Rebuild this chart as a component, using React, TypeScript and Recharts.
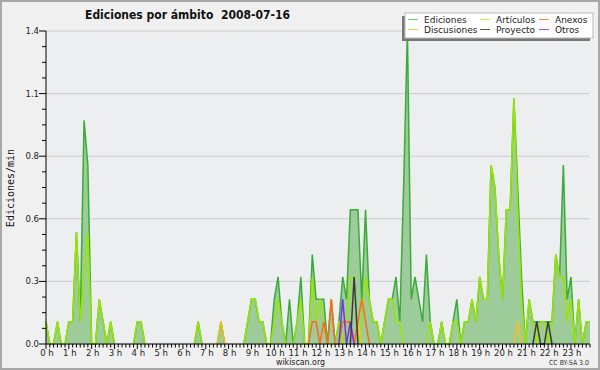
import React from 'react';
import { ComposedChart, Area, Line, XAxis, YAxis, CartesianGrid } from 'recharts';

// edits per minute, one value per 10-minute slot (6 slots per hour)
const ediciones = [
  0.1, 0, 0, 0.1, 0, 0,          // 0 h
  0.1, 0.1, 0.5, 0.1, 1.0, 0.8,  // 1 h
  0, 0, 0.2, 0.1, 0, 0.1,        // 2 h
  0, 0, 0, 0, 0, 0,              // 3 h
  0.1, 0.1, 0, 0, 0, 0,          // 4 h
  0, 0, 0, 0, 0, 0,              // 5 h
  0, 0, 0, 0, 0.1, 0,            // 6 h
  0, 0, 0, 0, 0.1, 0,            // 7 h
  0, 0, 0, 0, 0, 0.1,            // 8 h
  0.2, 0.2, 0.1, 0.1, 0, 0,      // 9 h
  0.2, 0.3, 0.1, 0, 0.2, 0,      // 10 h
  0.1, 0.3, 0, 0, 0.4, 0.2,      // 11 h
  0.2, 0.2, 0, 0.2, 0, 0.1,      // 12 h
  0.3, 0.2, 0.6, 0.6, 0.6, 0.2,  // 13 h
  0.6, 0.2, 0.1, 0.1, 0, 0.1,    // 14 h
  0.2, 0.2, 0.3, 0.1, 0.7, 1.4,  // 15 h
  0.2, 0.3, 0.2, 0.1, 0.4, 0.1,  // 16 h
  0, 0, 0.1, 0, 0, 0.1,          // 17 h
  0.2, 0, 0.1, 0.1, 0.2, 0.1,    // 18 h
  0.3, 0.2, 0.2, 0.8, 0.7, 0.4,  // 19 h
  0.2, 0.6, 0.6, 1.1, 0.7, 0.3,  // 20 h
  0, 0.2, 0.1, 0.1, 0.1, 0.1,    // 21 h
  0.1, 0.1, 0.4, 0.3, 0.8, 0.2,  // 22 h
  0.3, 0, 0.2, 0, 0.1, 0.1,      // 23 h
];

const articulos = [
  0.1, 0, 0, 0.1, 0, 0,
  0.1, 0.1, 0.5, 0.1, 0.3, 0.5,
  0, 0, 0.2, 0.1, 0, 0.1,
  0, 0, 0, 0, 0, 0,
  0.1, 0.1, 0, 0, 0, 0,
  0, 0, 0, 0, 0, 0,
  0, 0, 0, 0, 0.1, 0,
  0, 0, 0, 0, 0, 0,
  0, 0, 0, 0, 0, 0.1,
  0.2, 0.2, 0.1, 0.1, 0, 0,
  0.1, 0.2, 0.1, 0, 0, 0,
  0.1, 0.2, 0, 0, 0.3, 0.1,
  0.2, 0.1, 0, 0, 0, 0.1,
  0, 0.1, 0.3, 0.3, 0, 0.1,
  0.3, 0.2, 0.1, 0.1, 0, 0.1,
  0.2, 0.2, 0.1, 0.1, 0, 0,
  0, 0, 0, 0, 0, 0.1,
  0, 0, 0.1, 0, 0, 0.1,
  0.1, 0, 0.1, 0.1, 0.2, 0.1,
  0.3, 0.2, 0.2, 0.8, 0.7, 0.4,
  0.2, 0.6, 0.6, 1.1, 0.6, 0.2,
  0, 0.2, 0.1, 0, 0.1, 0.1,
  0, 0.1, 0.4, 0.3, 0.3, 0.1,
  0.2, 0, 0.2, 0, 0.1, 0.1,
];

const anexos = [
  0, 0, 0, 0, 0, 0,  0, 0, 0, 0, 0, 0,  0, 0, 0, 0, 0, 0,  0, 0, 0, 0, 0, 0,
  0, 0, 0, 0, 0, 0,  0, 0, 0, 0, 0, 0,  0, 0, 0, 0, 0, 0,  0, 0, 0, 0, 0, 0,
  0, 0, 0, 0, 0, 0,  0, 0, 0, 0, 0, 0,  0, 0, 0, 0, 0, 0,
  0, 0, 0, 0, 0.1, 0.1,        // 11 h
  0, 0.1, 0, 0.2, 0, 0,        // 12 h
  0.1, 0.1, 0.1, 0, 0.1, 0.2,  // 13 h
  0.1, 0, 0, 0, 0, 0,          // 14 h
  0, 0, 0, 0, 0, 0,  0, 0, 0, 0, 0, 0,  0, 0, 0, 0, 0, 0,  0, 0, 0, 0, 0, 0,
  0, 0, 0, 0, 0, 0,  0, 0, 0, 0, 0, 0,  0, 0, 0, 0, 0, 0,  0, 0, 0, 0, 0, 0,
  0, 0, 0, 0, 0, 0,
];

const discusiones = [
  0, 0, 0, 0, 0, 0,  0, 0, 0, 0, 0, 0,  0, 0, 0, 0, 0, 0,  0, 0, 0, 0, 0, 0,
  0, 0, 0, 0, 0, 0,  0, 0, 0, 0, 0, 0,  0, 0, 0, 0, 0, 0,
  0, 0, 0, 0, 0.1, 0,          // 7 h
  0, 0, 0, 0, 0, 0,  0, 0, 0, 0, 0, 0,  0, 0, 0, 0, 0, 0,  0, 0, 0, 0, 0, 0,
  0, 0, 0, 0, 0, 0,
  0, 0, 0, 0, 0.1, 0,          // 13 h
  0, 0, 0, 0, 0, 0,  0, 0, 0, 0, 0, 0,  0, 0, 0, 0, 0, 0,  0, 0, 0, 0, 0, 0,
  0, 0, 0, 0, 0, 0,  0, 0, 0, 0, 0, 0,
  0, 0, 0, 0, 0.1, 0,          // 20 h
  0, 0, 0, 0, 0, 0,  0, 0, 0, 0, 0, 0,  0, 0, 0, 0, 0, 0,
];

const proyecto = [
  0, 0, 0, 0, 0, 0,  0, 0, 0, 0, 0, 0,  0, 0, 0, 0, 0, 0,  0, 0, 0, 0, 0, 0,
  0, 0, 0, 0, 0, 0,  0, 0, 0, 0, 0, 0,  0, 0, 0, 0, 0, 0,  0, 0, 0, 0, 0, 0,
  0, 0, 0, 0, 0, 0,  0, 0, 0, 0, 0, 0,  0, 0, 0, 0, 0, 0,  0, 0, 0, 0, 0, 0,
  0, 0, 0, 0, 0, 0,
  0, 0, 0, 0.3, 0, 0,          // 13 h
  0, 0, 0, 0, 0, 0,  0, 0, 0, 0, 0, 0,  0, 0, 0, 0, 0, 0,  0, 0, 0, 0, 0, 0,
  0, 0, 0, 0, 0, 0,  0, 0, 0, 0, 0, 0,  0, 0, 0, 0, 0, 0,
  0, 0, 0, 0.1, 0, 0,          // 21 h
  0.1, 0, 0, 0, 0, 0,          // 22 h
  0, 0, 0, 0, 0, 0,
];

const otros = [
  0, 0, 0, 0, 0, 0,  0, 0, 0, 0, 0, 0,  0, 0, 0, 0, 0, 0,  0, 0, 0, 0, 0, 0,
  0, 0, 0, 0, 0, 0,  0, 0, 0, 0, 0, 0,  0, 0, 0, 0, 0, 0,  0, 0, 0, 0, 0, 0,
  0, 0, 0, 0, 0, 0,  0, 0, 0, 0, 0, 0,  0, 0, 0, 0, 0, 0,  0, 0, 0, 0, 0, 0,
  0, 0, 0, 0, 0, 0,
  0.2, 0, 0.1, 0, 0, 0,        // 13 h
  0, 0, 0, 0, 0, 0,  0, 0, 0, 0, 0, 0,  0, 0, 0, 0, 0, 0,  0, 0, 0, 0, 0, 0,
  0, 0, 0, 0, 0, 0,  0, 0, 0, 0, 0, 0,  0, 0, 0, 0, 0, 0,  0, 0, 0, 0, 0, 0,
  0, 0, 0, 0, 0, 0,  0, 0, 0, 0, 0, 0,
];

const HOUR_LABELS = Array.from({ length: 24 }, (_, h) => `${h} h`);
const X_TICKS = Array.from({ length: 144 }, (_, i) => i);
const Y_TICKS = Array.from({ length: 21 }, (_, k) => Math.round(k * 7) / 100);
const Y_MAJOR = [0, 0.28, 0.56, 0.84, 1.12, 1.4];

const LEGEND = [
  { name: 'Ediciones', color: '#77cc77' },
  { name: 'Artículos', color: '#ccee55' },
  { name: 'Anexos', color: '#ff8855' },
  { name: 'Discusiones', color: '#ffcc44' },
  { name: 'Proyecto', color: '#555555' },
  { name: 'Otros', color: '#9955ee' },
];

// hide runs of zeros so the lines do not sit on the axis
const trim = (arr: number[]) =>
  arr.map((v, i) => (v === 0 && (arr[i - 1] ?? 0) === 0 && (arr[i + 1] ?? 0) === 0 ? null : v));

const rows = (() => {
  const ed = trim(ediciones), ar = trim(articulos), an = trim(anexos);
  const di = trim(discusiones), pr = trim(proyecto), ot = trim(otros);
  return ediciones.map((_, i) => ({
    slot: i, ediciones: ed[i], articulos: ar[i], anexos: an[i],
    discusiones: di[i], proyecto: pr[i], otros: ot[i],
  }));
})();

const FONT = '"DejaVu Sans", sans-serif';

const HourTick = ({ x, y, payload }: any) => {
  const major = payload.value % 6 === 0;
  return (
    <g>
      <line x1={x} x2={x} y1={y} y2={y + (major ? 5 : 3.5)} stroke="#000" />
      {major && (
        <text x={x + 1} y={y + 12} textAnchor="middle" fontSize={8.5} fill="#222" fontFamily={FONT}>
          {HOUR_LABELS[payload.value / 6]}
        </text>
      )}
    </g>
  );
};

const RateTick = ({ x, y, payload }: any) => {
  const k = Math.round(payload.value / 0.07);
  const major = k % 4 === 0;
  return (
    <g>
      <line x1={x - (major ? 7 : 4)} x2={x} y1={y} y2={y} stroke="#000" />
      {major && (
        <text x={x - 7} y={y + 3} textAnchor="end" fontSize={8.5} fill="#222" fontFamily={FONT}>
          {(k * 0.07).toFixed(1)}
        </text>
      )}
    </g>
  );
};

export default function App() {
  const cols = [408, 480, 539];
  return (
    <div style={{ position: 'absolute', left: 0, top: 0, width: 600, height: 370, background: '#f0f0f0' }}>
      <ComposedChart width={600} height={370} data={rows} margin={{ top: 31, right: 10, bottom: 0, left: 0 }}>
        <CartesianGrid vertical={false} horizontalValues={Y_MAJOR} stroke="#cccccc" fill="#edeef0" />
        <XAxis
          type="number" dataKey="slot" domain={[0, 143]} ticks={X_TICKS} interval={0}
          tickLine={false} tickSize={0} tickMargin={0} height={26}
          axisLine={{ stroke: '#000' }} tick={(p: any) => <HourTick {...p} />}
        />
        <YAxis
          type="number" domain={[0, 1.4]} ticks={Y_TICKS} interval={0} width={46}
          tickLine={false} tickSize={0} tickMargin={0}
          axisLine={{ stroke: '#000' }} tick={(p: any) => <RateTick {...p} />}
        />
        <Area type="linear" dataKey="ediciones" stroke="#3aab3a" strokeWidth={1.5} fill="#9ecb9a" fillOpacity={1} dot={false} activeDot={false} isAnimationActive={false} />
        <Line type="linear" dataKey="articulos" stroke="#99e600" strokeWidth={1.5} dot={false} activeDot={false} isAnimationActive={false} />
        <Line type="linear" dataKey="discusiones" stroke="#f2c21a" strokeWidth={1.5} dot={false} activeDot={false} isAnimationActive={false} />
        <Line type="linear" dataKey="anexos" stroke="#ff6a1a" strokeWidth={1.5} dot={false} activeDot={false} isAnimationActive={false} />
        <Line type="linear" dataKey="otros" stroke="#7a2ff0" strokeWidth={1.5} dot={false} activeDot={false} isAnimationActive={false} />
        <Line type="linear" dataKey="proyecto" stroke="#3a3a3a" strokeWidth={1.5} dot={false} activeDot={false} isAnimationActive={false} />
      </ComposedChart>

      <svg width={600} height={370} style={{ position: 'absolute', left: 0, top: 0, pointerEvents: 'none' }}>
        <rect x={1} y={1} width={598} height={368} fill="none" stroke="#a8a8a8" strokeWidth={2} />
        <text x={85} y={18.5} textLength={205} lengthAdjust="spacingAndGlyphs" fontSize={13} fontWeight="bold" fill="#111" fontFamily={FONT} style={{ whiteSpace: 'pre' }}>
          {'Ediciones por ámbito  2008-07-16'}
        </text>
        <text transform="translate(13.5,188) rotate(-90)" textAnchor="middle" fontSize={10} fill="#111" fontFamily='"DejaVu Sans Mono", monospace'>
          Ediciones/min
        </text>
        <text x={276} y={365} textLength={49} lengthAdjust="spacingAndGlyphs" fontSize={8.5} fill="#222" fontFamily={FONT}>
          wikiscan.org
        </text>
        <text x={549} y={365} textLength={40} lengthAdjust="spacingAndGlyphs" fontSize={7} fill="#333" fontFamily={FONT}>
          CC BY-SA 3.0
        </text>

        <rect x={402} y={16} width={188} height={25} fill="#777" />
        <rect x={405} y={13} width={188} height={25} fill="#fff" stroke="#bbb" strokeWidth={1} />
        {LEGEND.map((item, i) => {
          const x = cols[i % 3];
          const y = i < 3 ? 19.5 : 29.5;
          return (
            <g key={item.name}>
              <line x1={x} x2={x + 10} y1={y} y2={y} stroke={item.color} strokeWidth={1} />
              <text x={x + 16} y={y + 3.5} fontSize={9} fill="#222" fontFamily={FONT}>{item.name}</text>
            </g>
          );
        })}
      </svg>
    </div>
  );
}
